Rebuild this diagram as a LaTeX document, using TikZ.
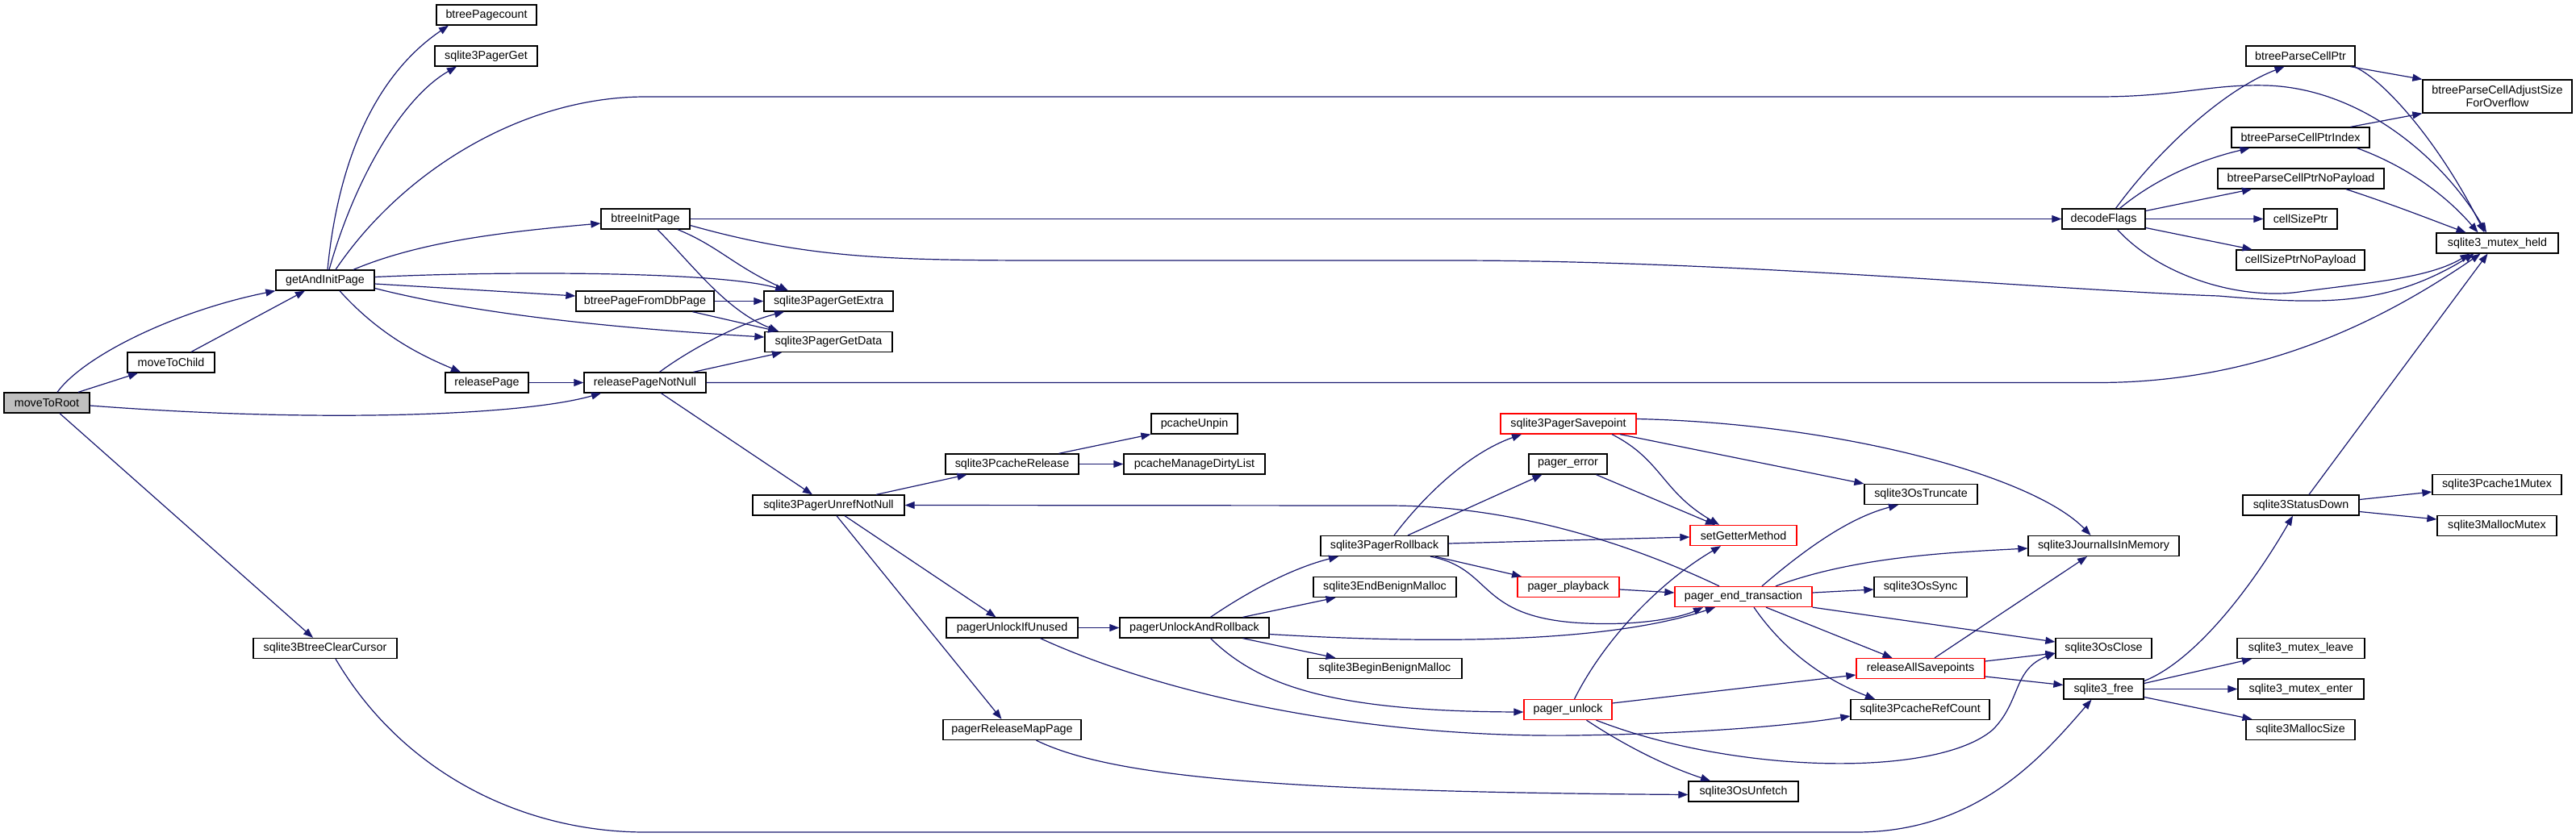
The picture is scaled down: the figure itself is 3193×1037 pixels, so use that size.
\documentclass[tikz,border=0pt]{standalone}
\usepackage{fontspec}
\setmainfont{Liberation Sans}
\usetikzlibrary{arrows.meta}
\definecolor{edgeblue}{HTML}{191970}
\definecolor{rootgray}{HTML}{BFBFBF}
\begin{document}
\begin{tikzpicture}[x=1pt,y=-1pt,
  nd/.style={draw=black,line width=1.3pt,fill=white,rectangle,inner sep=0pt,minimum height=25pt,font=\fontsize{14.3}{16}\selectfont,align=center},
  rednd/.style={nd,draw=red},
  rootnd/.style={nd,fill=rootgray},
  e/.style={draw=edgeblue,line width=1.2pt,-{Triangle[length=12pt,width=9pt]}}]
\fill[white] (0,0) rectangle (3193,1037);
\useasboundingbox (0,0) rectangle (3193,1037);
% nodes
\node[rootnd,minimum width=106pt] (root) at (58,499.5) {moveToRoot};
\node[nd,minimum width=108pt] (child) at (212,449.5) {moveToChild};
\node[nd,minimum width=122pt] (gaip) at (403,347.5) {getAndInitPage};
\node[nd,minimum width=124pt] (bpc) at (603,18.5) {btreePagecount};
\node[nd,minimum width=127pt] (pget) at (602.5,69.5) {sqlite3PagerGet};
\node[nd,minimum width=110pt] (bip) at (800,271.5) {btreeInitPage};
\node[nd,minimum width=171pt] (bpfdb) at (799.5,373.5) {btreePageFromDbPage};
\node[nd,minimum width=103pt] (rp) at (603.5,474.5) {releasePage};
\node[nd,minimum width=160pt] (gex) at (1027,373.5) {sqlite3PagerGetExtra};
\node[nd,minimum width=158pt] (gdat) at (1027,424) {sqlite3PagerGetData};
\node[nd,minimum width=151pt] (rpnn) at (799.5,474.5) {releasePageNotNull};
\node[nd,minimum width=178pt] (bcc) at (403,804) {sqlite3BtreeClearCursor};
\node[nd,minimum width=188pt] (unref) at (1027,626.5) {sqlite3PagerUnrefNotNull};
\node[nd,minimum width=165pt] (pcrel) at (1254.5,575.5) {sqlite3PcacheRelease};
\node[nd,minimum width=107pt] (unpin) at (1480.5,525.5) {pcacheUnpin};
\node[nd,minimum width=175pt] (dirty) at (1480.5,575.5) {pcacheManageDirtyList};
\node[nd,minimum width=163pt] (puiu) at (1254.5,778.5) {pagerUnlockIfUnused};
\node[nd,minimum width=185pt] (puar) at (1480.5,778.5) {pagerUnlockAndRollback};
\node[nd,minimum width=171pt] (prmp) at (1254.5,905) {pagerReleaseMapPage};
\node[rednd,minimum width=168pt] (savept) at (1944,525.5) {sqlite3PagerSavepoint};
\node[nd,minimum width=97pt] (perr) at (1943.5,575.5) {pager\_error};
\node[nd,minimum width=158pt] (prb) at (1716,677) {sqlite3PagerRollback};
\node[rednd,minimum width=132pt] (sgm) at (2161,664) {setGetterMethod};
\node[nd,minimum width=140pt] (otrunc) at (2381,613) {sqlite3OsTruncate};
\node[nd,minimum width=177pt] (ebm) at (1716.5,728) {sqlite3EndBenignMalloc};
\node[rednd,minimum width=126pt] (pplay) at (1944,728) {pager\_playback};
\node[rednd,minimum width=170pt] (pet) at (2161,740) {pager\_end\_transaction};
\node[nd,minimum width=115pt] (osync) at (2380.5,728) {sqlite3OsSync};
\node[nd,minimum width=191pt] (bbm) at (1716.5,829) {sqlite3BeginBenignMalloc};
\node[rednd,minimum width=159pt] (ras) at (2380.5,829) {releaseAllSavepoints};
\node[rednd,minimum width=109pt] (punl) at (1943.5,880) {pager\_unlock};
\node[nd,minimum width=172pt] (prc) at (2380,880) {sqlite3PcacheRefCount};
\node[nd,minimum width=136pt] (unf) at (2161,981.5) {sqlite3OsUnfetch};
\node[nd,minimum width=135pt] (bpcp) at (2851.5,69.5) {btreeParseCellPtr};
\node[nd,minimum width=185pt,minimum height=41pt] (adj) at (3095.5,119.5) {btreeParseCellAdjustSize\\ForOverflow};
\node[nd,minimum width=171pt] (bpci) at (2851.5,170.5) {btreeParseCellPtrIndex};
\node[nd,minimum width=206pt] (bpcn) at (2852,221.5) {btreeParseCellPtrNoPayload};
\node[nd,minimum width=103pt] (dflags) at (2607.5,271.5) {decodeFlags};
\node[nd,minimum width=91pt] (csp) at (2851.5,271.5) {cellSizePtr};
\node[nd,minimum width=159pt] (cspn) at (2851.5,322.5) {cellSizePtrNoPayload};
\node[nd,minimum width=151pt] (mheld) at (3095.5,301.5) {sqlite3\_mutex\_held};
\node[nd,minimum width=187pt] (jmem) at (2607.5,677) {sqlite3JournalIsInMemory};
\node[nd,minimum width=119pt] (oclose) at (2607.5,804) {sqlite3OsClose};
\node[nd,minimum width=99pt] (sfree) at (2607.5,854.5) {sqlite3\_free};
\node[nd,minimum width=144pt] (sdown) at (2852,626.5) {sqlite3StatusDown};
\node[nd,minimum width=160pt] (p1m) at (3095,601) {sqlite3Pcache1Mutex};
\node[nd,minimum width=148pt] (mmx) at (3095,652) {sqlite3MallocMutex};
\node[nd,minimum width=158pt] (mleave) at (2852,804) {sqlite3\_mutex\_leave};
\node[nd,minimum width=156pt] (menter) at (2852,854.5) {sqlite3\_mutex\_enter};
\node[nd,minimum width=135pt] (msize) at (2851.5,905) {sqlite3MallocSize};
% edges
\draw[e] ([xshift=13pt]root.north) .. controls (105,440) and (220,385) .. (gaip.south west);
\draw[e] ([xshift=39pt]root.north) -- ([xshift=-41pt]child.south);
\draw[e] ([yshift=-3.5pt]root.east) .. controls (400,525) and (650,515) .. ([xshift=-54.5pt]rpnn.south);
\draw[e] ([xshift=16pt]root.south) -- ([xshift=-15pt]bcc.north);
\draw[e] ([xshift=25pt]child.north) -- ([xshift=-25pt]gaip.south);
\draw[e] ([xshift=3pt]gaip.north) .. controls (420,190) and (470,90) .. ([xshift=-47pt]bpc.south);
\draw[e] ([xshift=5pt]gaip.north) .. controls (440,220) and (500,120) .. ([xshift=-36.5pt]pget.south);
\draw[e] ([xshift=13pt]gaip.north) .. controls (500,210) and (650,120) .. (800,120) -- (2600,120) .. controls (2700,120) and (2740,104) .. (2810,106) .. controls (2930,110) and (3030,200) .. ([xshift=-13.5pt]mheld.north);
\draw[e] ([xshift=35pt]gaip.north) .. controls (520,300) and (620,288) .. ([yshift=-5.5pt]bip.west);
\draw[e] ([yshift=4pt]gaip.east) .. controls (650,335) and (900,338) .. ([xshift=-54pt]gex.north);
\draw[e] ([yshift=-4.5pt]gaip.east) -- ([yshift=6.5pt]bpfdb.west);
\draw[e] ([yshift=-10pt]gaip.east) .. controls (600,392) and (780,408) .. ([yshift=6pt]gdat.west);
\draw[e] ([xshift=18pt]gaip.south) .. controls (470,415) and (520,440) .. ([xshift=-32.5pt]rp.north);
\draw[e] (bip.east) -- (dflags.west);
\draw[e] ([yshift=-8pt]bip.east) .. controls (1000,320) and (1100,323) .. (1300,323) -- (1800,323) .. controls (2150,323) and (2550,360) .. (2750,367) .. controls (2880,378) and (2960,380) .. ([xshift=-29pt]mheld.south);
\draw[e] ([xshift=40pt]bip.south) .. controls (890,305) and (910,330) .. ([xshift=-50pt]gex.north);
\draw[e] ([xshift=15pt]bip.south) .. controls (860,330) and (900,385) .. ([xshift=-62pt]gdat.north);
\draw[e] (bpfdb.east) -- (gex.west);
\draw[e] ([xshift=59pt]bpfdb.south) -- ([xshift=-63pt]gdat.north);
\draw[e] (rp.east) -- (rpnn.west);
\draw[e] ([xshift=18pt]rpnn.north) .. controls (860,430) and (920,400) .. ([xshift=-55pt]gex.south);
\draw[e] ([xshift=60pt]rpnn.north) -- ([xshift=-58pt]gdat.south);
\draw[e] (rpnn.east) -- (2600,474.5) .. controls (2800,474.5) and (2950,400) .. ([xshift=-21pt]mheld.south);
\draw[e] ([xshift=20pt]rpnn.south) -- ([xshift=-20pt]unref.north);
\draw[e] ([xshift=59pt]unref.north) -- ([xshift=-56pt]pcrel.south);
\draw[e] ([xshift=20pt]unref.south) -- ([xshift=-20pt]puiu.north);
\draw[e] ([xshift=10pt]unref.south) -- ([xshift=-13pt]prmp.north);
\draw[e] ([xshift=58pt]pcrel.north) -- (unpin.south west);
\draw[e] (pcrel.east) -- (dirty.west);
\draw[e] ([xshift=-30pt]pet.north) .. controls (1990,660) and (1850,627) .. (1720,627) -- (unref.east);
\draw[e] (puiu.east) -- (puar.west);
\draw[e] ([xshift=35pt]puiu.south) .. controls (1450,865) and (1700,915) .. (1950,912) .. controls (2100,910) and (2220,900) .. ([yshift=-8pt]prc.west);
\draw[e] ([xshift=20pt]puar.north) .. controls (1545,735) and (1600,705) .. ([xshift=-57pt]prb.south);
\draw[e] ([xshift=60pt]puar.north) -- ([xshift=-61pt]ebm.south);
\draw[e] ([yshift=-8pt]puar.east) .. controls (1800,800) and (2000,795) .. ([xshift=-35pt]pet.south);
\draw[e] ([xshift=60pt]puar.south) -- ([xshift=-61pt]bbm.north);
\draw[e] ([xshift=20pt]puar.south) .. controls (1560,850) and (1650,882) .. ([yshift=-3pt]punl.west);
\draw[e] ([xshift=30pt]prmp.south) .. controls (1380,965) and (1600,982) .. ([yshift=-4pt]unf.west);
\draw[e] ([xshift=12pt]prb.north) .. controls (1765,615) and (1820,562) .. ([xshift=-58pt]savept.south);
\draw[e] ([xshift=29pt]prb.north) -- ([xshift=-32pt]perr.south);
\draw[e] ([yshift=3pt]prb.east) -- ([yshift=-2pt]sgm.west);
\draw[e] ([xshift=63pt]prb.south) -- ([xshift=-58pt]pplay.north);
\draw[e] ([xshift=57pt]prb.south) .. controls (1850,705) and (1830,762) .. (1950,772) .. controls (2030,778) and (2085,765) .. ([xshift=-50pt]pet.south);
\draw[e] ([xshift=54pt]savept.south) .. controls (2060,570) and (2060,610) .. ([xshift=-30pt]sgm.north);
\draw[e] ([xshift=64pt]savept.south) -- (otrunc.north west);
\draw[e] ([yshift=6pt]savept.east) .. controls (2280,525) and (2520,590) .. ([xshift=-16pt]jmem.north);
\draw[e] ([xshift=35pt]perr.south) -- ([xshift=-35pt]sgm.north);
\draw[e] ([yshift=-3pt]pplay.east) -- ([yshift=5pt]pet.west);
\draw[e] ([xshift=8pt]punl.north) .. controls (1990,790) and (2060,720) .. ([xshift=-28pt]sgm.south);
\draw[e] ([yshift=8pt]punl.east) -- ([yshift=-8pt]ras.west);
\draw[e] ([xshift=35pt]punl.south) .. controls (2150,960) and (2400,965) .. (2470,905) .. controls (2505,870) and (2495,830) .. ([yshift=-6pt]oclose.west);
\draw[e] ([xshift=23pt]punl.south) .. controls (2030,935) and (2080,955) .. ([xshift=-41pt]unf.north);
\draw[e] ([xshift=23pt]pet.north) .. controls (2250,670) and (2300,640) .. ([xshift=-28pt]otrunc.south);
\draw[e] ([xshift=40pt]pet.north) .. controls (2300,690) and (2420,685) .. ([yshift=-3pt]jmem.west);
\draw[e] ([yshift=5pt]pet.east) -- ([yshift=-3pt]osync.west);
\draw[e] (pet.south east) -- ([yshift=8pt]oclose.west);
\draw[e] ([xshift=28pt]pet.south) -- ([xshift=-35pt]ras.north);
\draw[e] ([xshift=13pt]pet.south) .. controls (2220,820) and (2280,850) .. ([xshift=-56pt]prc.north);
\draw[e] ([xshift=17.5pt]ras.north) -- ([xshift=-20.5pt]jmem.south);
\draw[e] ([yshift=9pt]ras.east) -- ([yshift=-6pt]oclose.west);
\draw[e] ([yshift=-10pt]ras.east) -- ([yshift=5pt]sfree.west);
\draw[e] ([xshift=13pt]bcc.south) .. controls (500,960) and (650,1032) .. (800,1032) -- (2300,1032) .. controls (2450,1032) and (2530,940) .. ([xshift=-15pt]sfree.south);
\draw[e] ([yshift=10pt]sfree.east) .. controls (2720,820) and (2790,730) .. ([xshift=-10pt]sdown.south);
\draw[e] ([yshift=7pt]sfree.east) -- ([xshift=-61pt]mleave.south);
\draw[e] (sfree.east) -- (menter.west);
\draw[e] ([yshift=-10pt]sfree.east) -- ([xshift=-60pt]msize.north);
\draw[e] ([yshift=7pt]sdown.east) -- ([yshift=-9pt]p1m.west);
\draw[e] ([yshift=-8pt]sdown.east) -- ([yshift=8pt]mmx.west);
\draw[e] ([xshift=10pt]sdown.north) -- ([xshift=-12pt]mheld.south);
\draw[e] ([xshift=15pt]dflags.north) .. controls (2680,180) and (2760,110) .. ([xshift=-20pt]bpcp.south);
\draw[e] ([xshift=20pt]dflags.north) .. controls (2680,215) and (2740,195) .. ([xshift=-63pt]bpci.south);
\draw[e] ([yshift=10pt]dflags.east) -- ([xshift=-61pt]bpcn.south);
\draw[e] (dflags.east) -- (csp.west);
\draw[e] ([yshift=-11pt]dflags.east) -- ([xshift=-60pt]cspn.north);
\draw[e] ([xshift=17pt]dflags.south) .. controls (2680,345) and (2780,372) .. (2850,362) .. controls (2940,350) and (3010,345) .. ([xshift=-34pt]mheld.south);
\draw[e] ([xshift=62pt]bpcp.south) -- (adj.north west);
\draw[e] ([xshift=66pt]bpcp.south) .. controls (2950,95) and (3020,170) .. ([xshift=-16pt]mheld.north);
\draw[e] ([xshift=62pt]bpci.north) -- (adj.south west);
\draw[e] ([xshift=70pt]bpci.south) .. controls (2980,205) and (3030,240) .. ([xshift=-24pt]mheld.north);
\draw[e] ([xshift=56pt]bpcn.south) .. controls (2970,255) and (3020,275) .. ([xshift=-39pt]mheld.north);
\end{tikzpicture}
\end{document}
